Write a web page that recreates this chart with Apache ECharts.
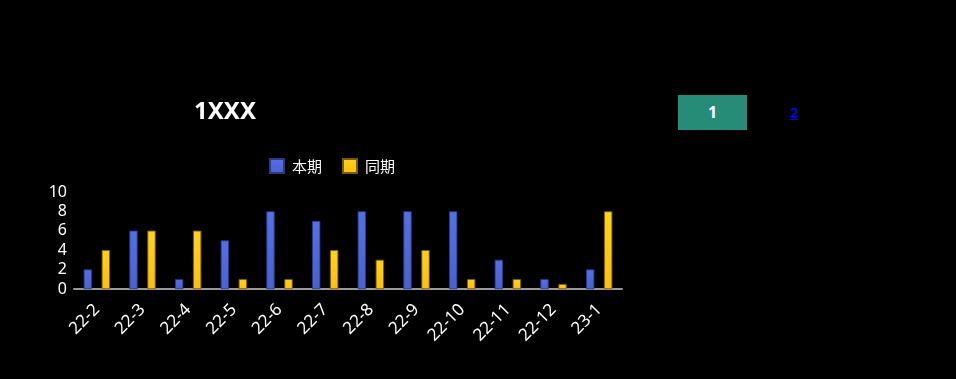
<!DOCTYPE html>
<html><head><meta charset="utf-8">
<script src="https://cdn.jsdelivr.net/npm/echarts@6/dist/echarts.min.js"></script>
<style>
html,body{margin:0;padding:0;background:#000;width:956px;height:379px;overflow:hidden;font-family:"Noto Sans CJK SC","Noto Sans",sans-serif;}
#chart{position:absolute;left:0;top:0;width:956px;height:379px;}
#btn1{position:absolute;left:678px;top:95px;width:69px;height:35px;background:#268c78;color:#fff;font-weight:bold;font-size:16px;line-height:35px;text-align:center;font-family:"Noto Sans",sans-serif;}
#btn2{position:absolute;left:787px;top:95px;width:14px;height:35px;color:#0000ff;font-weight:bold;font-size:14px;line-height:35px;text-align:center;text-decoration:underline;font-family:"Noto Sans",sans-serif;}
</style></head>
<body>
<div id="chart"></div>
<div id="btn1">1</div>
<div id="btn2">2</div>
<script>
const categories = ['22-2','22-3','22-4','22-5','22-6','22-7','22-8','22-9','22-10','22-11','22-12','23-1'];
const currentValues = [2,6,1,5,8,7,8,8,8,3,1,2];
const samePeriodValues = [4,6,6,1,1,4,3,4,1,1,0.5,8];
const seriesNames = ['本期','同期'];
const titleText = '1XXX';

const chart = echarts.init(document.getElementById('chart'));
chart.setOption({
  backgroundColor: '#000',
  title: {text: titleText, left: 220, top: 95, textAlign: 'center',
    textStyle: {color: '#fff', fontSize: 24, fontWeight: 'bold', fontFamily: '"Noto Sans",sans-serif'}},
  legend: {data: seriesNames, top: 153, left: 264, icon: 'rect', itemWidth: 14, itemHeight: 14, itemGap: 20,
    textStyle: {color: '#fff', fontSize: 15, padding: [0,0,0,3], fontFamily: '"Noto Sans CJK SC",sans-serif'}},
  grid: {left: 74, right: 334, top: 192, bottom: 90, containLabel: false},
  xAxis: {type: 'category', data: categories,
    axisLine: {lineStyle: {color: '#999', width: 2}},
    axisTick: {length: 6, lineStyle: {color: '#999', width: 1}},
    axisLabel: {color: '#fff', rotate: 45, fontSize: 17, margin: 18, fontFamily: '"Noto Sans",sans-serif'}},
  yAxis: {type: 'value', min: 0, max: 10, interval: 2,
    axisLine: {show: false}, axisTick: {show: false}, splitLine: {show: false},
    axisLabel: {color: '#fff', fontSize: 16, margin: 7, fontFamily: '"Noto Sans",sans-serif'}},
  series: [
    {name: seriesNames[0], type: 'bar', data: currentValues, barWidth: 8, barGap: '125%',
     itemStyle: {borderColor: '#2a3a80', borderWidth: 0.5,
       color: new echarts.graphic.LinearGradient(0,0,0,1,[{offset:0,color:'#5470e6'},{offset:1,color:'#4a62cf'}])}},
    {name: seriesNames[1], type: 'bar', data: samePeriodValues, barWidth: 8,
     itemStyle: {borderColor: '#7a5a00', borderWidth: 0.5,
       color: new echarts.graphic.LinearGradient(0,0,0,1,[{offset:0,color:'#ffd21a'},{offset:1,color:'#fbbf10'}])}}
  ]
});
</script>
</body></html>
